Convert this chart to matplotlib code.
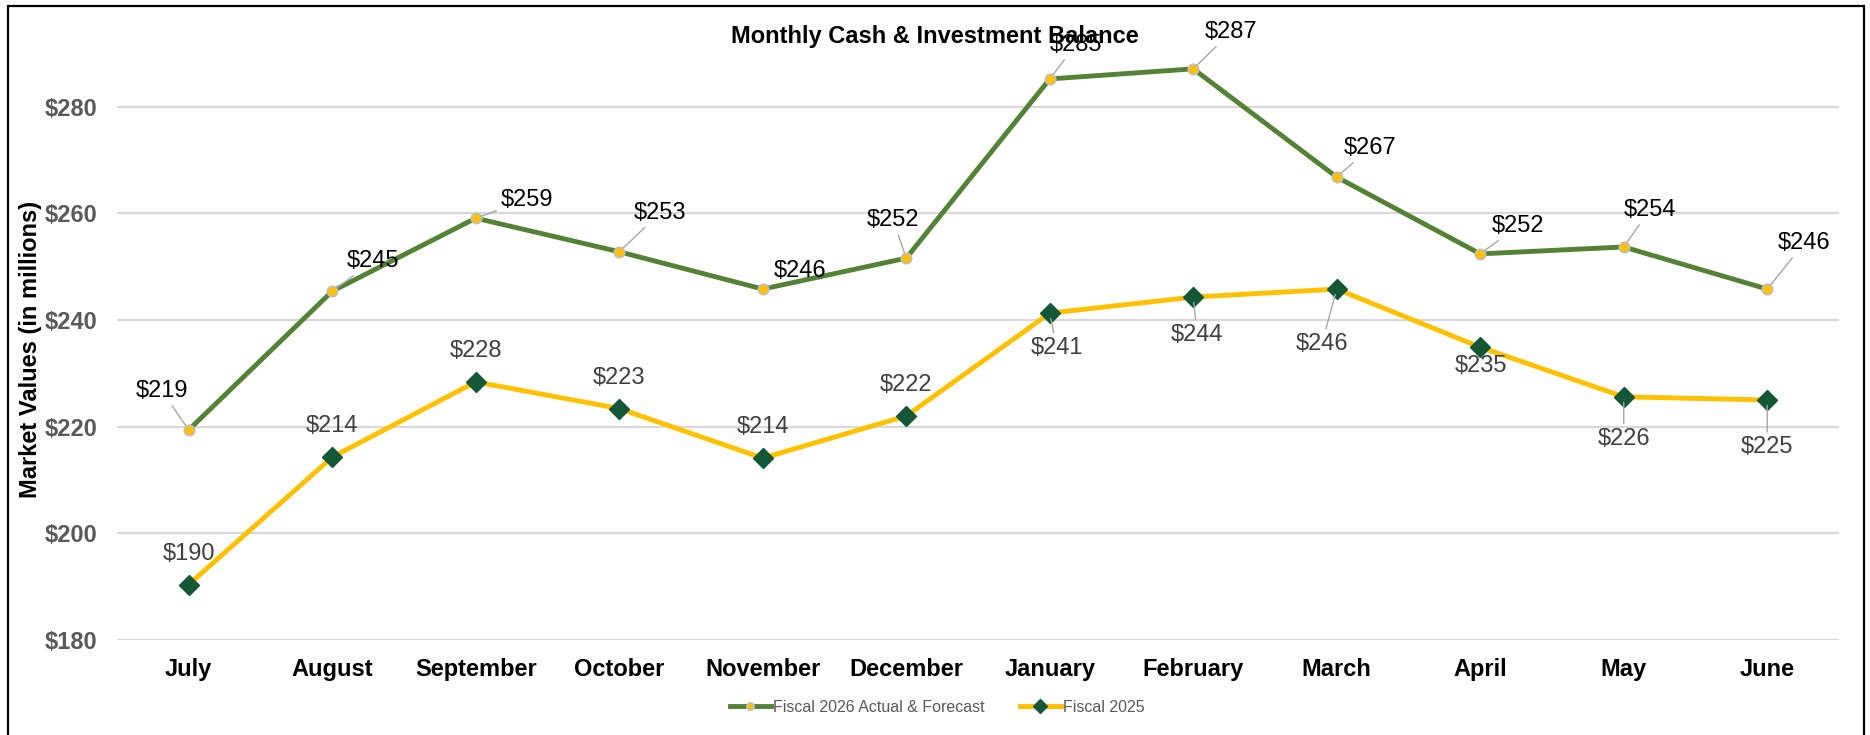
import matplotlib
matplotlib.use("Agg")
import matplotlib.pyplot as plt
from matplotlib.patches import Rectangle

plt.rcParams["font.family"] = ["Liberation Sans", "DejaVu Sans"]

# data
months = ["July", "August", "September", "October", "November", "December",
          "January", "February", "March", "April", "May", "June"]
fy2026 = [219.4, 245.4, 259.1, 252.8, 245.8, 251.6, 285.2, 287.1, 266.8, 252.4, 253.7, 245.8]
fy2025 = [190.4, 214.3, 228.4, 223.4, 214.1, 222.0, 241.3, 244.3, 245.8, 234.9, 225.6, 225.0]
yticks = [180, 200, 220, 240, 260, 280]

# label offsets in pixels (dx, dy up), and whether a leader line is drawn
off26 = [(-27, 39), (41, 30), (51, 18), (41, 39), (37, 18), (-13, 38),
         (26, 34), (38, 37), (33, 29), (38, 28), (26, 37), (37, 46)]
lead26 = [True] * 12
off25 = [(0, 31), (0, 31), (0, 31), (0, 31), (0, 31), (0, 31),
         (7, -35), (4, -38), (-15, -55), (1, -19), (0, -42), (0, -47)]
lead25 = [False] * 6 + [True, True, True, False, True, True]

GREEN = "#548235"
YELLOW = "#FFC000"
DARK = "#135737"

fig = plt.figure(figsize=(18.7, 7.35), dpi=100)
ax = fig.add_axes([117 / 1870, 1 - 640 / 735, (1839 - 117) / 1870, (640 - 42.7) / 735])

x = list(range(len(months)))
ax.plot(x, fy2026, color=GREEN, lw=3.5, marker="o", ms=7.5,
        mfc=YELLOW, mec="#BFBFBF", mew=1.2, label="Fiscal 2026 Actual & Forecast", zorder=3)
ax.plot(x, fy2025, color=YELLOW, lw=3.5, marker="D", ms=10,
        mfc=DARK, mec=DARK, label="Fiscal 2025", zorder=3)

def add_labels(vals, offs, leads, color):
    for i, v in enumerate(vals):
        kw = {}
        if leads[i]:
            kw["arrowprops"] = dict(arrowstyle="-", color="#A6A6A6", lw=1,
                                    shrinkA=1, shrinkB=4)
        ax.annotate(f"${v:.0f}", xy=(i, v), xytext=offs[i], textcoords="offset pixels",
                    ha="center", va="center", fontsize=17, color=color,
                    annotation_clip=False, zorder=4, **kw)

add_labels(fy2026, off26, lead26, "#000000")
add_labels(fy2025, off25, lead25, "#404040")

ax.set_xlim(-0.5, len(months) - 0.5)
ax.set_ylim(180, 292)
ax.set_xticks(x)
ax.set_xticklabels(months, fontsize=17, fontweight="bold", color="black")
ax.set_yticks(yticks)
ax.set_yticklabels([f"${t}" for t in yticks], fontsize=17, fontweight="bold", color="#595959")
ax.tick_params(axis="both", length=0)
ax.tick_params(axis="y", pad=14)
ax.tick_params(axis="x", pad=13)
ax.grid(axis="y", color="#D9D9D9", lw=1.6)
ax.set_axisbelow(True)
for s in ax.spines.values():
    s.set_visible(False)

fig.text(935 / 1870, 1 - 36 / 735, "Monthly Cash & Investment Balance",
         ha="center", va="center", fontsize=17, fontweight="bold")
fig.text(31 / 1870, 1 - 349 / 735, "Market Values (in millions)", rotation=90,
         ha="center", va="center", fontsize=17, fontweight="bold")

fig.legend(loc="center", bbox_to_anchor=(937 / 1870, 1 - 707 / 735), ncol=2,
           frameon=False, fontsize=11.5, labelcolor="#595959", handlelength=2.6,
           handletextpad=0.1, columnspacing=2.2, markerscale=0.7)

fig.patches.append(Rectangle((8 / 1870, -0.05), (1864 - 8) / 1870, 1.05 - 6 / 735,
                             transform=fig.transFigure, fill=False, lw=1.6,
                             edgecolor="black"))

fig.savefig("out.png", dpi=100)
